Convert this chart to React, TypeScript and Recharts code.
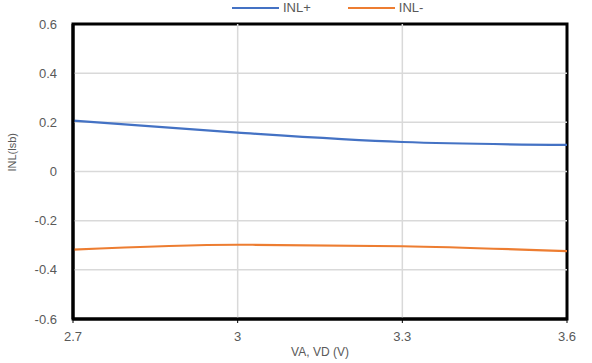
import { Line, LineChart, ReferenceArea, ReferenceLine, XAxis, YAxis } from "recharts";

const voltage = [2.7, 3, 3.3, 3.6];
const inlPlus = [0.207, 0.158, 0.12, 0.108];
const inlMinus = [-0.318, -0.298, -0.304, -0.324];
const xTicks = [2.7, 3, 3.3, 3.6];
const yTicks = [-0.6, -0.4, -0.2, 0, 0.2, 0.4, 0.6];
const xGrid = [3, 3.3];
const yGrid = [-0.4, -0.2, 0, 0.2, 0.4];

const data = voltage.map((v, i) => ({ v, plus: inlPlus[i], minus: inlMinus[i] }));

const textColor = "#595959";
const gridColor = "#d9d9d9";
const frameColor = "black";
const font = "'Liberation Sans', Arial, sans-serif";

function TopLegend() {
  const items = [
    { name: "INL+", color: "#4472C4" },
    { name: "INL-", color: "#ED7D31" },
  ];
  return (
    <div style={{ position: "absolute", top: 0, left: 232, display: "flex", gap: 37, fontFamily: font, fontSize: 13, color: textColor, lineHeight: "16px" }}>
      {items.map((it) => (
        <div key={it.name} style={{ display: "flex", alignItems: "center" }}>
          <span style={{ display: "inline-block", width: 47, height: 2, background: it.color, marginRight: 4 }} />
          {it.name}
        </div>
      ))}
    </div>
  );
}

export default function App() {
  return (
    <div style={{ position: "relative", width: 592, height: 363, background: "#fff" }}>
      <style>{"body{margin:0}"}</style>
      <LineChart width={592} height={363} data={data} margin={{ top: 24, right: 25, bottom: 0, left: 0 }}>
        {yGrid.map((y) => (
          <ReferenceLine key={"y" + y} y={y} stroke={gridColor} strokeWidth={1.5} />
        ))}
        {xGrid.map((x) => (
          <ReferenceLine key={"x" + x} x={x} stroke={gridColor} strokeWidth={1.5} />
        ))}
        <XAxis
          dataKey="v"
          type="number"
          domain={[2.7, 3.6]}
          ticks={xTicks}
          height={44}
          tickSize={4}
          stroke={frameColor}
          axisLine={{ stroke: frameColor, strokeWidth: 3 }}
          tick={{ fill: textColor, fontSize: 13, fontFamily: font }}
          tickMargin={9}
          label={{ value: "VA, VD (V)", position: "insideBottom", offset: 7, fill: textColor, fontSize: 12, fontFamily: font }}
        />
        <YAxis
          type="number"
          domain={[-0.6, 0.6]}
          ticks={yTicks}
          width={73}
          stroke={frameColor}
          tickLine={false}
          axisLine={{ stroke: frameColor, strokeWidth: 3 }}
          tick={{ fill: textColor, fontSize: 13, fontFamily: font }}
          tickMargin={10}
          label={{ value: "INL(lsb)", angle: -90, position: "insideLeft", offset: 12, fill: textColor, fontSize: 11, fontFamily: font }}
        />
        <Line type="monotone" dataKey="plus" name="INL+" stroke="#4472C4" strokeWidth={2.2} dot={false} isAnimationActive={false} />
        <Line type="monotone" dataKey="minus" name="INL-" stroke="#ED7D31" strokeWidth={2.2} dot={false} isAnimationActive={false} />
        <ReferenceArea x1={2.7} x2={3.6} y1={-0.6} y2={0.6} fill="none" stroke={frameColor} strokeWidth={3} strokeOpacity={1} ifOverflow="visible" />
      </LineChart>
      <TopLegend />
    </div>
  );
}
